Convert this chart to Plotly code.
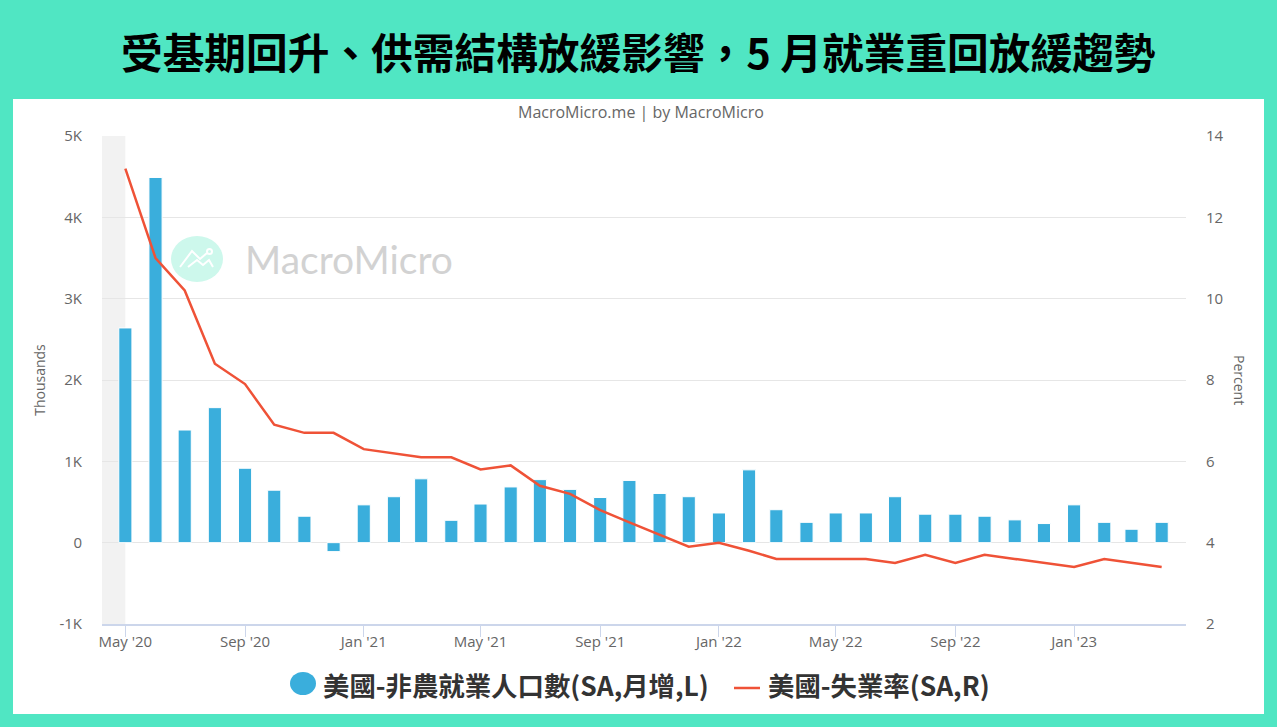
#!/usr/bin/env python3

import plotly.graph_objects as go

TITLE = '受基期回升、供需結構放緩影響，5 月就業重回放緩趨勢'
SOURCE = 'MacroMicro.me | by MacroMicro'
BAR_NAME = '美國-非農就業人口數(SA,月增,L)'
LINE_NAME = '美國-失業率(SA,R)'

months = [
    '2020-05-01', '2020-06-01', '2020-07-01', '2020-08-01', '2020-09-01', '2020-10-01',
    '2020-11-01', '2020-12-01', '2021-01-01', '2021-02-01', '2021-03-01', '2021-04-01',
    '2021-05-01', '2021-06-01', '2021-07-01', '2021-08-01', '2021-09-01', '2021-10-01',
    '2021-11-01', '2021-12-01', '2022-01-01', '2022-02-01', '2022-03-01', '2022-04-01',
    '2022-05-01', '2022-06-01', '2022-07-01', '2022-08-01', '2022-09-01', '2022-10-01',
    '2022-11-01', '2022-12-01', '2023-01-01', '2023-02-01', '2023-03-01', '2023-04-01',
]
payrolls = [
    2640, 4490, 1385, 1660, 915, 645, 325, -110, 465, 565, 785, 275,
    475, 685, 775, 655, 555, 765, 605, 565, 365, 895, 405, 250,
    365, 365, 565, 350, 350, 325, 280, 235, 465, 250, 165, 250,
]
unemployment = [
    13.2, 11.0, 10.2, 8.4, 7.9, 6.9, 6.7, 6.7, 6.3, 6.2, 6.1, 6.1,
    5.8, 5.9, 5.4, 5.2, 4.8, 4.5, 4.2, 3.9, 4.0, 3.8, 3.6, 3.6,
    3.6, 3.6, 3.5, 3.7, 3.5, 3.7, 3.6, 3.5, 3.4, 3.6, 3.5, 3.4,
]
left_ticks = [-1000, 0, 1000, 2000, 3000, 4000, 5000]
left_labels = ['-1K', '0', '1K', '2K', '3K', '4K', '5K']
right_ticks = [2, 4, 6, 8, 10, 12, 14]

WIDTH, HEIGHT = 1277, 727
LEFT, RIGHT, TOP, BOTTOM = 102, 1186, 136, 624
TEAL = '#50E6C3'
BLUE = '#3AAEDC'
RED = '#EF5237'
GREY = '#666666'
CJK = 'Noto Sans CJK TC'
SANS = 'Open Sans'


def px_x(x):
    return (x - LEFT) / (RIGHT - LEFT)


def px_y(y):
    return (BOTTOM - y) / (BOTTOM - TOP)


def paper_rect(x0, y0, x1, y1, color, kind='rect'):
    return dict(type=kind, xref='paper', yref='paper', layer='below',
                x0=px_x(x0), x1=px_x(x1), y0=px_y(y1), y1=px_y(y0),
                fillcolor=color, line_width=0)


def logo_path(points):
    d = 'M' + ' L'.join('{},{}'.format(px_x(x), px_y(y)) for x, y in points)
    return dict(type='path', xref='paper', yref='paper', layer='below', path=d,
                line=dict(color='white', width=2))


def label(text, x, y, font, xanchor='center', **kw):
    return dict(text=text, x=px_x(x), y=px_y(y), xref='paper', yref='paper', showarrow=False,
                xanchor=xanchor, yanchor='middle', font=font, **kw)


fig = go.Figure()

fig.add_trace(go.Bar(
    x=months, y=payrolls, name=BAR_NAME,
    marker=dict(color=BLUE, line=dict(color='white', width=1)),
    width=13.5 * 86400000,
))
fig.add_trace(go.Scatter(
    x=months, y=unemployment, name=LINE_NAME, mode='lines', yaxis='y2',
    line=dict(color=RED, width=2.5),
))

shapes = [
    paper_rect(13, 99, 1264, 714, 'white'),
    dict(type='rect', xref='x', yref='paper', layer='below',
         x0='2020-04-07', x1=months[0], y0=0, y1=1,
         fillcolor='#F2F2F2', line_width=0),
    # watermark logo
    paper_rect(171, 236, 223, 282, '#CDF8EC', 'circle'),
    logo_path([(180, 267), (192, 251), (200, 259), (207, 253)]),
    logo_path([(188, 267), (197, 260), (203, 265), (209, 260), (213, 267)]),
    paper_rect(206, 248, 213, 255, 'white', 'circle'),
    paper_rect(208, 250, 211, 253, '#CDF8EC', 'circle'),
    # legend swatches, the round one is bigger than plotly's legend allows
    paper_rect(290, 672, 316, 695, BLUE, 'circle'),
    dict(type='line', xref='paper', yref='paper',
         x0=px_x(734), x1=px_x(760), y0=px_y(688), y1=px_y(688),
         line=dict(color=RED, width=2.5)),
]

legend_font = dict(family=CJK, size=26.4, color='#333333', weight='bold')
annotations = [
    label(TITLE, 638.5, 51, dict(family=CJK, size=41.7, color='black', weight='bold')),
    label(SOURCE, 641, 112, dict(family=SANS, size=16, color=GREY)),
    label('MacroMicro', 349, 259, dict(family='Lato', size=39, color='#D2D2D2')),
    label('Percent', 1240, 380, dict(family=SANS, size=14, color=GREY), textangle=90),
    label(BAR_NAME, 321, 684, legend_font, xanchor='left'),
    label(LINE_NAME, 766, 684, legend_font, xanchor='left'),
]

fig.update_layout(
    width=WIDTH, height=HEIGHT,
    margin=dict(l=LEFT, r=WIDTH - RIGHT, t=TOP, b=HEIGHT - BOTTOM, autoexpand=False),
    paper_bgcolor=TEAL, plot_bgcolor='rgba(0,0,0,0)',
    shapes=shapes, annotations=annotations,
    font=dict(family=SANS, color=GREY),
    showlegend=False,
    xaxis=dict(
        type='date', range=['2020-04-07', '2023-04-26'],
        tick0=months[0], dtick='M4', tickformat="%b '%y",
        ticks='outside', ticklen=11, tickcolor='#CCD6EB', tickwidth=1,
        ticklabelstandoff=-8,
        showline=True, linecolor='#CCD6EB', linewidth=1.5, showgrid=False, zeroline=False,
        tickfont=dict(family=SANS, size=15, color=GREY),
    ),
    yaxis=dict(
        range=[-1000, 5000], tickvals=left_ticks, ticktext=left_labels,
        gridcolor='#E6E6E6', gridwidth=1, zeroline=False, showline=False,
        ticklabelstandoff=19,
        tickfont=dict(family=SANS, size=15, color=GREY),
        title=dict(text='Thousands', standoff=10, font=dict(family=SANS, size=14, color=GREY)),
    ),
    yaxis2=dict(
        overlaying='y', side='right', range=[2, 14], tickvals=right_ticks,
        showgrid=False, zeroline=False, showline=False,
        ticklabelstandoff=19,
        tickfont=dict(family=SANS, size=15, color=GREY),
    ),
)

fig.write_html('out.html', config=dict(displayModeBar=False),
               post_script="document.body.style.margin='0';")
